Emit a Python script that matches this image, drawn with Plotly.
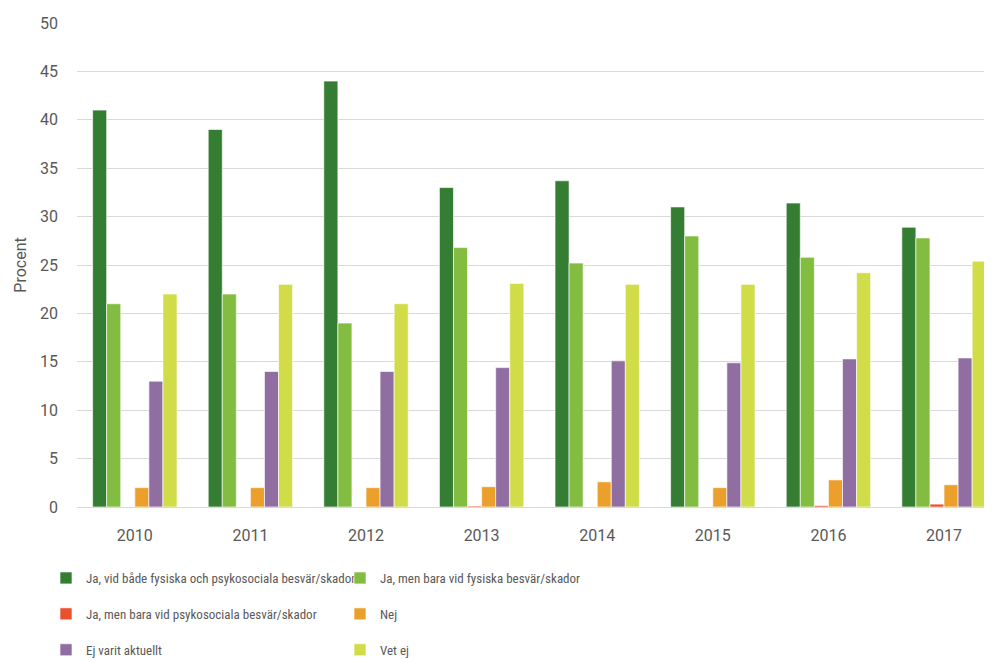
import plotly.graph_objects as go

years = ["2010", "2011", "2012", "2013", "2014", "2015", "2016", "2017"]
names = [
    "Ja, vid både fysiska och psykosociala besvär/skador",
    "Ja, men bara vid fysiska besvär/skador",
    "Ja, men bara vid psykosociala besvär/skador",
    "Nej",
    "Ej varit aktuellt",
    "Vet ej",
]
both_vals = [41, 39, 44, 33, 33.7, 31, 31.4, 28.9]
fys_vals = [21, 22, 19, 26.8, 25.2, 28, 25.8, 27.8]
psyk_vals = [0, 0, 0, 0.1, 0, 0, 0.15, 0.3]
nej_vals = [2, 2, 2, 2.1, 2.6, 2, 2.8, 2.3]
ej_vals = [13, 14, 14, 14.4, 15.1, 14.9, 15.3, 15.4]
vet_vals = [22, 23, 21, 23.1, 23, 23, 24.2, 25.4]
y_ticks = [0, 5, 10, 15, 20, 25, 30, 35, 40, 45, 50]

series = [both_vals, fys_vals, psyk_vals, nej_vals, ej_vals, vet_vals]
colors = ["#357D32", "#82BD41", "#E8502E", "#ECA02C", "#906EA1", "#D0DC48"]
legends = ["legend", "legend2", "legend", "legend2", "legend", "legend2"]

fig = go.Figure()
for i, (nm, vals, col, lg) in enumerate(zip(names, series, colors, legends)):
    fig.add_trace(go.Bar(
        x=years, y=vals, name=nm,
        marker=dict(color=col, line=dict(color="rgba(255,255,255,0.8)", width=0.8)),
        legend=lg, legendgroup="g%d" % i,
    ))

OFF = 8  # default page body margin
W, H = 992 - OFF, 659 - OFF
ML, MT = 77 - OFF, 23 - OFF
PH = 484
MB = H - MT - PH
PW = W - ML


def px_x(screen_px):
    return (screen_px - OFF - ML) / PW


def px_y(screen_px):
    return (H - MB - (screen_px - OFF)) / PH


legend_font = dict(family="Liberation Sans Narrow, Roboto Condensed, Arial Narrow, sans-serif",
                   size=13, color="#595959")
fig.update_layout(
    width=W, height=H,
    margin=dict(l=ML, r=0, t=MT, b=MB, autoexpand=False),
    paper_bgcolor="white", plot_bgcolor="white",
    barmode="group", bargap=0.27, bargroupgap=0,
    font=dict(family="Roboto, sans-serif", color="#595959", size=16),
    xaxis=dict(
        type="category", range=[-0.5, 7.415], showgrid=False,
        showline=False, ticks="", ticklabelstandoff=17,
        tickfont=dict(size=16, color="#595959"),
    ),
    yaxis=dict(
        range=[0, 50], tickvals=y_ticks, showgrid=True, gridcolor="#D9D9D9",
        gridwidth=1, zeroline=True, zerolinecolor="#D9D9D9", zerolinewidth=1,
        ticks="", ticklabelstandoff=18, tickfont=dict(size=16, color="#595959"),
        title=dict(text="Procent", standoff=9, font=dict(size=16, color="#595959")),
    ),
    legend=dict(
        x=px_x(46), y=px_y(563),
        xanchor="left", yanchor="top", orientation="v",
        font=legend_font, tracegroupgap=16, bgcolor="rgba(0,0,0,0)",
    ),
    legend2=dict(
        x=px_x(340), y=px_y(563),
        xanchor="left", yanchor="top", orientation="v",
        font=legend_font, tracegroupgap=16, bgcolor="rgba(0,0,0,0)",
    ),
)

fig.write_html("out.html")
